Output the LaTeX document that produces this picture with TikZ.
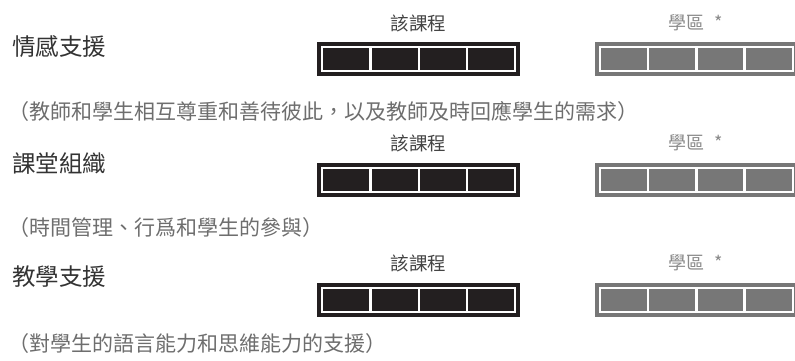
\documentclass[tikz,border=0pt]{standalone}
\usepackage{fontspec}
\newfontfamily\cjk{Noto Sans CJK TC}
\definecolor{barblack}{HTML}{231F20}
\definecolor{bargrey}{HTML}{777777}
\definecolor{titlecol}{HTML}{333333}
\definecolor{subcol}{HTML}{6E6E6E}
\definecolor{labcol}{HTML}{444444}
\definecolor{lab2col}{HTML}{8A8A8A}
\tikzset{
  titletext/.style={anchor=west, inner sep=0pt, font=\cjk\fontsize{23.5}{25}\selectfont, text=titlecol},
  subtext/.style={anchor=west, inner sep=0pt, font=\cjk\fontsize{21}{23}\selectfont, text=subcol},
  labtext/.style={inner sep=0pt, font=\cjk\fontsize{18.5}{20}\selectfont, text=labcol},
  lab2text/.style={anchor=west, inner sep=0pt, font=\cjk\fontsize{18}{20}\selectfont, text=lab2col},
}
\newcommand{\ratingbar}[3]{% x, y-top, colour
  \fill[#3] (#1,#2) rectangle ++(203,34);
  \fill[white] (#1+4,#2+4) rectangle ++(195,26);
  \foreach \i in {0,1,2,3}{
    \fill[#3] (#1+6+\i*48.25,#2+6) rectangle ++(45.95,22);
  }
}
\begin{document}
\begin{tikzpicture}[x=1pt,y=-1pt]
\useasboundingbox[fill=white] (0,0) rectangle (795,360);
\begin{scope}
\clip (0,0) rectangle (795,360);
% row 1
\node[titletext] (t1) at (12,47) {情感支援};
\node[subtext] (s1) at (8,111) {（教師和學生相互尊重和善待彼此，以及教師及時回應學生的需求）};
\node[labtext] (c1) at (418.5,23) {該課程};
\node[lab2text] (d1) at (668,23) {學區\hspace{10pt}*};
\ratingbar{317.3}{42}{barblack}
\ratingbar{595}{42}{bargrey}
% row 2
\node[titletext] (t2) at (12,164) {課堂組織};
\node[subtext] (s2) at (8,228) {（時間管理、行爲和學生的參與）};
\node[labtext] (c2) at (418.5,143) {該課程};
\node[lab2text] (d2) at (668,143) {學區\hspace{10pt}*};
\ratingbar{317.3}{163}{barblack}
\ratingbar{595}{163}{bargrey}
% row 3
\node[titletext] (t3) at (12,277) {教學支援};
\node[subtext] (s3) at (8,344) {（對學生的語言能力和思維能力的支援）};
\node[labtext] (c3) at (418.5,263) {該課程};
\node[lab2text] (d3) at (668,263) {學區\hspace{10pt}*};
\ratingbar{317.3}{283}{barblack}
\ratingbar{595}{283}{bargrey}
\end{scope}
\end{tikzpicture}
\end{document}
